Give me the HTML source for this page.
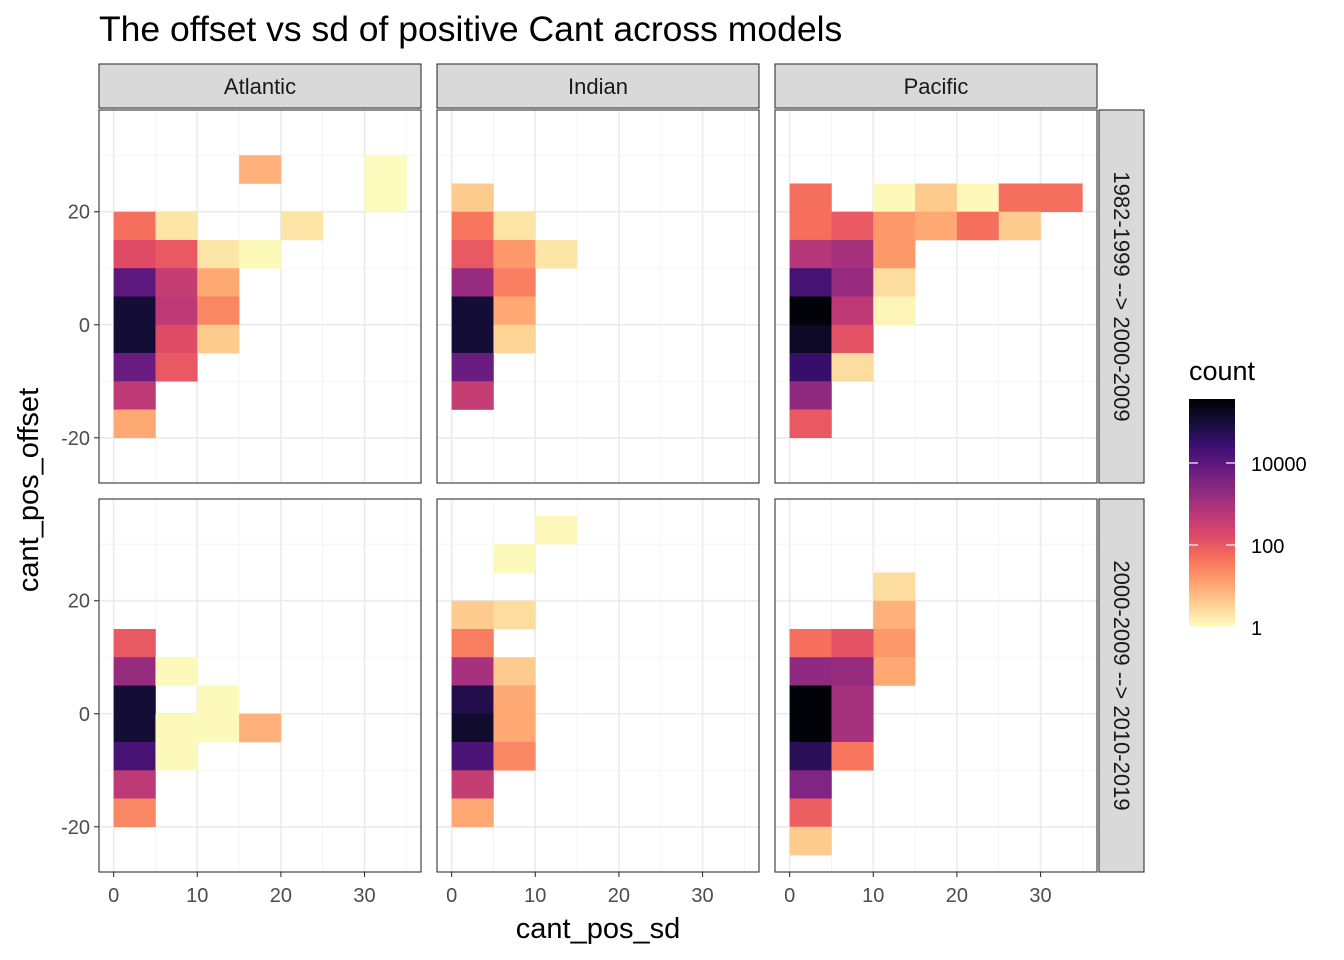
<!DOCTYPE html>
<html><head><meta charset="utf-8"><style>
body{margin:0;background:#fff;}
svg{display:block;font-family:"Liberation Sans",sans-serif;}
</style></head><body>
<svg id="c" width="1344" height="960" xmlns="http://www.w3.org/2000/svg"></svg>
<script>
const panelNames=["Atlantic","Indian","Pacific"];
const rowNames=["1982-1999 --> 2000-2009","2000-2009 --> 2010-2019"];
const xTicks=[0,10,20,30];
const yTicks=[-20,0,20];
const legendTicks=[1,100,10000];
// cells: [panel, row, xbinLow, ybinLow, log10(count)]
const cellPanel=[];const cellRow=[];const cellX=[];const cellY=[];const cellLog=[];
const cells=[
// Atlantic top
[0,0,0,15,1.7],[0,0,0,10,2.2],[0,0,0,5,4.0],[0,0,0,0,5.0],[0,0,0,-5,5.0],[0,0,0,-10,3.8],[0,0,0,-15,2.7],[0,0,0,-20,1.0],
[0,0,5,15,0.3],[0,0,5,10,2.0],[0,0,5,5,2.6],[0,0,5,0,2.7],[0,0,5,-5,2.2],[0,0,5,-10,2.0],
[0,0,10,10,0.3],[0,0,10,5,1.0],[0,0,10,0,1.4],[0,0,10,-5,0.6],
[0,0,15,25,0.9],[0,0,15,10,0.05],[0,0,20,15,0.3],[0,0,30,25,0.02],[0,0,30,20,0.02],
// Indian top
[1,0,0,20,0.6],[1,0,0,15,1.6],[1,0,0,10,2.0],[1,0,0,5,3.2],[1,0,0,0,5.0],[1,0,0,-5,5.0],[1,0,0,-10,3.8],[1,0,0,-15,2.6],
[1,0,5,15,0.3],[1,0,5,10,1.2],[1,0,5,5,1.5],[1,0,5,0,1.0],[1,0,5,-5,0.5],[1,0,10,10,0.3],
// Pacific top
[2,0,0,20,1.7],[2,0,0,15,1.7],[2,0,0,10,2.8],[2,0,0,5,4.3],[2,0,0,0,5.5],[2,0,0,-5,5.2],[2,0,0,-10,4.5],[2,0,0,-15,3.3],[2,0,0,-20,2.0],
[2,0,5,15,2.0],[2,0,5,10,3.0],[2,0,5,5,3.2],[2,0,5,0,2.7],[2,0,5,-5,2.1],[2,0,5,-10,0.4],
[2,0,10,20,0.05],[2,0,10,15,1.2],[2,0,10,10,1.2],[2,0,10,5,0.4],[2,0,10,0,0.1],
[2,0,15,20,0.6],[2,0,15,15,1.0],[2,0,20,20,0.05],[2,0,20,15,1.7],[2,0,25,20,1.7],[2,0,25,15,0.6],[2,0,30,20,1.7],
// Atlantic bottom
[0,1,0,10,2.0],[0,1,0,5,3.2],[0,1,0,0,5.0],[0,1,0,-5,5.0],[0,1,0,-10,4.3],[0,1,0,-15,2.7],[0,1,0,-20,1.4],
[0,1,5,5,0.05],[0,1,5,-5,0.05],[0,1,5,-10,0.05],[0,1,10,0,0.05],[0,1,10,-5,0.05],[0,1,15,-5,0.9],
// Indian bottom
[1,1,10,30,0.05],[1,1,5,25,0.05],
[1,1,0,15,0.6],[1,1,0,10,1.5],[1,1,0,5,3.0],[1,1,0,0,4.8],[1,1,0,-5,5.1],[1,1,0,-10,4.2],[1,1,0,-15,2.6],[1,1,0,-20,1.0],
[1,1,5,15,0.4],[1,1,5,5,0.6],[1,1,5,0,1.0],[1,1,5,-5,1.0],[1,1,5,-10,1.4],
// Pacific bottom
[2,1,10,20,0.4],[2,1,10,15,0.9],[2,1,10,10,1.2],[2,1,10,5,1.0],
[2,1,0,10,1.7],[2,1,0,5,3.3],[2,1,0,0,5.5],[2,1,0,-5,5.5],[2,1,0,-10,4.7],[2,1,0,-15,3.5],[2,1,0,-20,1.9],[2,1,0,-25,0.6],
[2,1,5,10,2.1],[2,1,5,5,3.2],[2,1,5,0,3.0],[2,1,5,-5,3.0],[2,1,5,-10,1.6]
];
cells.forEach(c=>{cellPanel.push(c[0]);cellRow.push(c[1]);cellX.push(c[2]);cellY.push(c[3]);cellLog.push(c[4]);});
const maxLog=5.56;
const magma=["#000004","#140e36","#3b0f70","#641a80","#8c2981","#b73779","#de4968","#f7705c","#fe9f6d","#fecf92","#fcfdbf"];
function hex(h){return [1,3,5].map(i=>parseInt(h.substr(i,2),16));}
function color(lg){let t=1-Math.max(0,Math.min(maxLog,lg))/maxLog;let p=t*10,i=Math.min(9,Math.floor(p)),f=p-i;
 const a=hex(magma[i]),b=hex(magma[i+1]);return "rgb("+a.map((v,k)=>Math.round(v+(b[k]-v)*f)).join(",")+")";}
const svg=document.getElementById('c');const NS="http://www.w3.org/2000/svg";
function el(tag,attrs,parent){const e=document.createElementNS(NS,tag);for(const k in attrs)e.setAttribute(k,attrs[k]);(parent||svg).appendChild(e);return e;}
const pxL=[99,437,775],pW=322,pyT=[110,499],pH=373;
const xMin=-1.75,xMax=36.75,yMin=-28,yMax=38;
function sx(p,v){return pxL[p]+(v-xMin)/(xMax-xMin)*pW;}
function sy(r,v){return pyT[r]+(yMax-v)/(yMax-yMin)*pH;}
let t=el('text',{x:99,y:41,'font-size':35.5,fill:'#000'});t.textContent="The offset vs sd of positive Cant across models";


for(let p=0;p<3;p++){
 let s=el('rect',{x:pxL[p],y:64,width:pW,height:44,fill:'#d9d9d9',stroke:'#333','stroke-width':1.1});
 
 
 let st=el('text',{x:pxL[p]+pW/2,y:94,'font-size':22,'text-anchor':'middle',fill:'#1a1a1a'});st.textContent=panelNames[p];
 
 
 for(let r=0;r<2;r++){
  let bg=el('rect',{x:pxL[p],y:pyT[r],width:pW,height:pH,fill:'#fff'});
  
  
  [5,15,25,35].forEach(v=>el('line',{x1:sx(p,v),x2:sx(p,v),y1:pyT[r],y2:pyT[r]+pH,stroke:'#f2f2f2','stroke-width':0.8}));
  [-10,10,30].forEach(v=>el('line',{x1:pxL[p],x2:pxL[p]+pW,y1:sy(r,v),y2:sy(r,v),stroke:'#f2f2f2','stroke-width':0.8}));
  xTicks.forEach(v=>el('line',{x1:sx(p,v),x2:sx(p,v),y1:pyT[r],y2:pyT[r]+pH,stroke:'#ebebeb','stroke-width':1.6}));
  yTicks.forEach(v=>el('line',{x1:pxL[p],x2:pxL[p]+pW,y1:sy(r,v),y2:sy(r,v),stroke:'#ebebeb','stroke-width':1.6}));
 }
}
for(let i=0;i<cellLog.length;i++){
 const p=cellPanel[i],r=cellRow[i];
 const x0=sx(p,cellX[i]),x1=sx(p,cellX[i]+5),y0=sy(r,cellY[i]+5),y1=sy(r,cellY[i]);
 let c=el('rect',{x:x0,y:y0,width:x1-x0+0.3,height:y1-y0+0.3,fill:color(cellLog[i])});
 
 
}
for(let p=0;p<3;p++)for(let r=0;r<2;r++){
 el('rect',{x:pxL[p],y:pyT[r],width:pW,height:pH,fill:'none',stroke:'#333','stroke-width':1.1});
}
for(let r=0;r<2;r++){
 let s=el('rect',{x:1099,y:pyT[r],width:45,height:pH,fill:'#d9d9d9',stroke:'#333','stroke-width':1.1});
 
 
 const cy=pyT[r]+pH/2;
 let st=el('text',{x:1114,y:cy,'font-size':22,'text-anchor':'middle',fill:'#1a1a1a',transform:'rotate(90 1114 '+cy+')'});
 st.textContent=rowNames[r];
 
 
}
for(let p=0;p<3;p++)xTicks.forEach(v=>{
 el('line',{x1:sx(p,v),x2:sx(p,v),y1:872,y2:877,stroke:'#333','stroke-width':1.1});
 let tl=el('text',{x:sx(p,v),y:902,'font-size':20,'text-anchor':'middle',fill:'#4d4d4d'});tl.textContent=v;
 
 
});
for(let r=0;r<2;r++)yTicks.forEach(v=>{
 el('line',{x1:94,x2:99,y1:sy(r,v),y2:sy(r,v),stroke:'#333','stroke-width':1.1});
 let tl=el('text',{x:90,y:sy(r,v)+7,'font-size':20,'text-anchor':'end',fill:'#4d4d4d'});tl.textContent=v;
 
 
});
let xt=el('text',{x:598,y:938,'font-size':29,'text-anchor':'middle'});xt.textContent="cant_pos_sd";


let yt=el('text',{x:38,y:490,'font-size':29,'text-anchor':'middle',transform:'rotate(-90 38 490)'});yt.textContent="cant_pos_offset";


// legend
let lt=el('text',{x:1189,y:380,'font-size':27});lt.textContent="count";


const defs=el('defs',{});const g=el('linearGradient',{id:'lg',x1:0,y1:1,x2:0,y2:0},defs);
for(let i=0;i<=20;i++){el('stop',{offset:i/20,'stop-color':color(i/20*maxLog)},g);}
const lb=el('rect',{x:1189,y:399,width:46,height:228,fill:'url(#lg)'});


function ly(v){return 627-Math.log10(v)/maxLog*228;}
legendTicks.forEach(v=>{
 const y=ly(v);
 el('line',{x1:1189,x2:1198,y1:y,y2:y,stroke:'#fff','stroke-width':1.2});
 el('line',{x1:1226,x2:1235,y1:y,y2:y,stroke:'#fff','stroke-width':1.2});
 let tl=el('text',{x:1251,y:y+8,'font-size':20,fill:'#000'});tl.textContent=v;
 
 
});
</script>
</body></html>
